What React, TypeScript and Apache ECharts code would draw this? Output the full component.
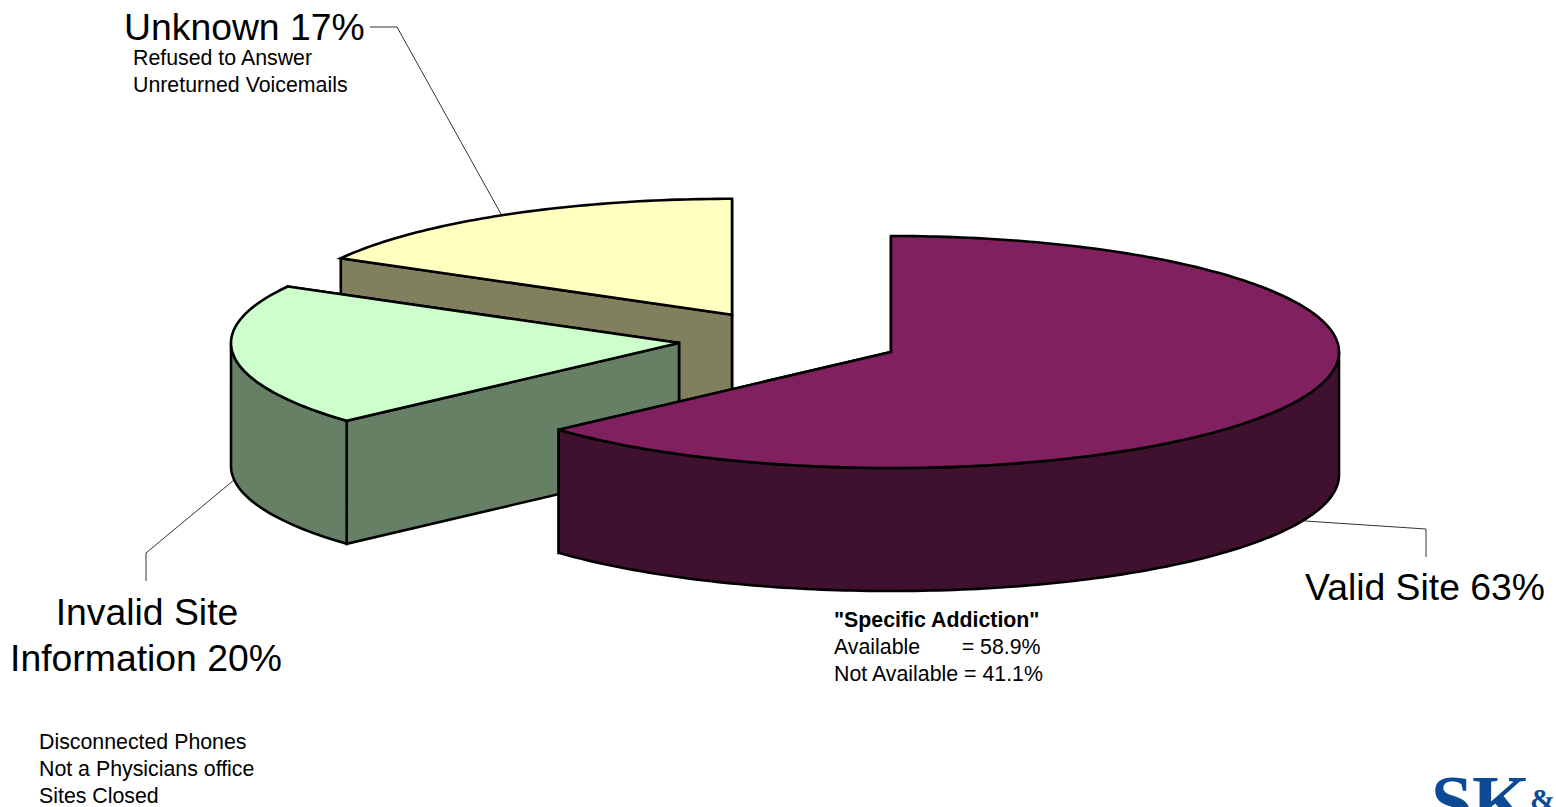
import React, { useEffect, useRef } from "react";
import * as echarts from "echarts";

// Slices in painter's order (back to front); the pie starts at 12 o'clock with the last one, clockwise.
const categories = ["Unknown", "Invalid Site\nInformation", "Valid Site"];
const values = [16.9, 19.8, 63.3];
const topColors = ["#ffffc0", "#ccffcc", "#80205e"];
const sideColors = ["#80805f", "#668066", "#40102f"];
const sliceCentersX = [732, 679, 891];
const sliceCentersY = [314.8, 343, 352];

const unknownNotes = ["Refused to Answer", "Unreturned Voicemails"];
const invalidNotes = ["Disconnected Phones", "Not a Physicians office", "Sites Closed"];
const addictionTitle = '"Specific Addiction"';
const addictionNotes = ["Available       = 58.9%", "Not Available = 41.1%"];

const RX = 448;
const RY = 116;
const DEPTH = 123;
const FONT = '"Liberation Sans", Arial, sans-serif';

const total = values.reduce((a, b) => a + b, 0);
const label = (i: number) => `${categories[i]} ${Math.round(values[i])}%`;

function arcPoints(cx: number, cy: number, from: number, to: number) {
  const pts: number[][] = [];
  const n = Math.max(2, Math.ceil(Math.abs(to - from)));
  for (let k = 0; k <= n; k++) {
    const a = ((from + ((to - from) * k) / n) * Math.PI) / 180;
    pts.push([cx + RX * Math.sin(a), cy - RY * Math.cos(a)]);
  }
  return pts;
}

function renderSlice(params: any, api: any) {
  const i = params.dataIndex;
  const value = api.value(0);
  let before = 0;
  for (let j = i + 1; j < values.length; j++) before += values[j];
  const start = (before / total) * 360;
  const end = start + (value / total) * 360;
  const cx = sliceCentersX[i];
  const cy = sliceCentersY[i];
  const line = { stroke: "#000", lineWidth: 2.6, lineJoin: "miter" };
  const side = { fill: sideColors[i], ...line };
  const children: any[] = [];
  const arc = arcPoints(cx, cy, start, end);
  const wall = (p: number[]) => ({
    type: "polygon",
    shape: { points: [p, [cx, cy], [cx, cy + DEPTH], [p[0], p[1] + DEPTH]] },
    style: side,
  });
  // the radial wall whose outer end lies further back is painted first
  const ends = [arc[0], arc[arc.length - 1]].sort((a, b) => a[1] - b[1]);
  children.push(wall(ends[0]));
  children.push(wall(ends[1]));
  const rimFrom = Math.max(start, 90);
  const rimTo = Math.min(end, 270);
  if (rimTo > rimFrom) {
    const rim = arcPoints(cx, cy, rimFrom, rimTo);
    const lower = rim.map((p) => [p[0], p[1] + DEPTH]).reverse();
    children.push({ type: "polygon", shape: { points: [...rim, ...lower] }, style: side });
  }
  children.push({
    type: "polygon",
    shape: { points: [[cx, cy], ...arc] },
    style: { fill: topColors[i], ...line },
  });
  return { type: "group", children };
}

const txt = (text: string, x: number, y: number, size: number, extra: any = {}) => ({
  type: "text",
  x,
  y,
  silent: true,
  style: { text, fontSize: size, fontFamily: FONT, fill: "#000", verticalAlign: "middle", ...extra },
});

const leader = (points: number[][]) => ({
  type: "polyline",
  silent: true,
  shape: { points },
  style: { stroke: "#333", lineWidth: 1, fill: "none" },
});

export default function App() {
  const ref = useRef<HTMLDivElement>(null);
  useEffect(() => {
    document.body.style.margin = "0";
    document.body.style.overflow = "hidden";
    const chart = echarts.init(ref.current!, undefined, { renderer: "svg" });
    const invalidLines = label(1).split("\n");
    const logo = { fontFamily: '"Liberation Serif", serif', fontWeight: "bold", fill: "#0d4a96" };
    chart.setOption({
      animation: false,
      backgroundColor: "#fff",
      series: [
        {
          type: "custom",
          coordinateSystem: "none",
          renderItem: renderSlice,
          data: values.map((v, i) => ({ name: categories[i], value: [v] })),
          silent: true,
          z: 1,
        },
      ],
      graphic: [
        leader([[370, 27], [397, 27], [501, 214]]),
        leader([[234, 480], [146, 553], [146, 581]]),
        leader([[1305, 521], [1426, 529], [1426, 557]]),
        txt(label(0), 124, 27, 37.33),
        txt(unknownNotes[0], 133, 58, 21.33),
        txt(unknownNotes[1], 133, 85, 21.33),
        txt(invalidLines[0], 147, 612, 37.33, { align: "center" }),
        txt(invalidLines[1], 146, 658, 37.33, { align: "center" }),
        txt(label(2), 1305, 587, 37.33),
        txt(addictionTitle, 834, 620, 21.33, { fontWeight: "bold" }),
        txt(addictionNotes[0], 834, 647, 21.33),
        txt(addictionNotes[1], 834, 674, 21.33),
        txt(invalidNotes[0], 39, 742, 21.33),
        txt(invalidNotes[1], 39, 769, 21.33),
        txt(invalidNotes[2], 39, 796, 21.33),
        txt("S", 1431, 801, 75, logo),
        txt("K", 1472, 801, 75, logo),
        txt("&", 1530, 798, 30, logo),
      ],
    });
    return () => chart.dispose();
  }, []);
  return <div ref={ref} style={{ position: "fixed", left: 0, top: 0, width: 1556, height: 807 }} />;
}
